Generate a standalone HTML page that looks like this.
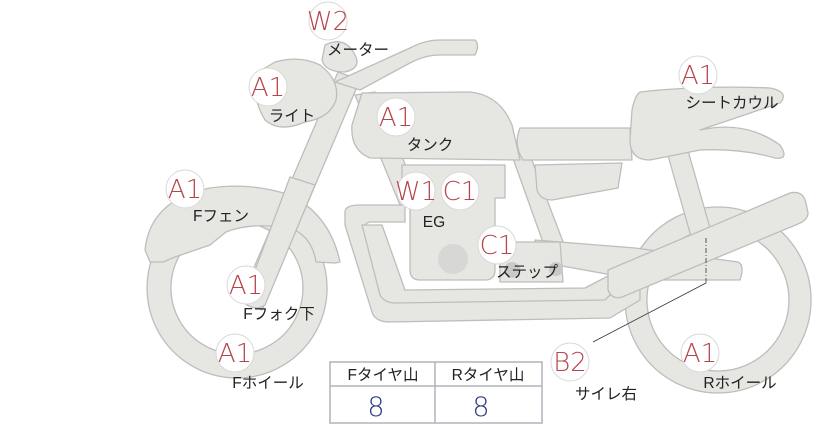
<!DOCTYPE html>
<html><head><meta charset="utf-8"><style>
html,body{margin:0;padding:0;background:#fff;}
svg{display:block;}
.p{fill:#e6e6e3;stroke:#bdbdbb;stroke-width:1.3;stroke-linejoin:round;}
.b{fill:#fff;stroke:#d8d8d8;stroke-width:1;}
.bt{font-family:"DejaVu Sans","Liberation Sans",sans-serif;font-size:26px;fill:#b5454a;text-anchor:middle;font-weight:200;}
.l{font-family:"Liberation Sans","Noto Sans CJK JP",sans-serif;font-size:15.5px;fill:#222;text-anchor:middle;}
</style></head><body>
<svg width="822" height="425" viewBox="0 0 822 425" xmlns="http://www.w3.org/2000/svg">
<!-- rear wheel -->
<path class="p" fill-rule="evenodd" d="M718,207a93,93 0 1,0 0.1,0Z M718,229a71,71 0 1,1 -0.1,0Z"/>
<!-- front wheel ring -->
<path class="p" fill-rule="evenodd" d="M237,198a90,90 0 1,0 0.1,0Z M237,222a66,66 0 1,1 -0.1,0Z"/>
<!-- front fender -->
<path class="p" d="M150,262 L145,250 Q150,200 210,188 Q250,182 290,195 Q330,215 340,262 L335,263 L316,262 Q312,236 290,228 Q250,222 226,232 L210,245 L175,257 L163,262 Z"/>
<!-- frame tube behind -->
<path class="p" d="M355,95 L375,92 L420,200 L400,205 Z"/>
<!-- rear frame -->
<path class="p" d="M510,150 L528,150 L570,260 L550,262 Z"/>
<path class="p" d="M665,145 L685,140 L712,235 L692,240 Z"/>
<!-- swing arm -->
<path class="p" d="M535,240 L635,248 L738,262 Q745,265 740,280 L640,280 L540,262 Z"/>
<!-- exhaust pipes -->
<path class="p" d="M345,212 Q345,205 360,205 L405,205 L405,222 L370,222 Q362,224 365,232 L400,300 L600,300 L615,288 L640,288 L640,300 L610,318 L390,322 Q375,322 372,312 L345,225 Z"/>
<path class="p" d="M362,225 L382,225 L405,290 L585,288 L610,275 L625,280 L605,300 L395,303 Q385,303 380,295 Z"/>
<!-- engine -->
<path class="p" d="M402,165 L505,165 L505,198 L495,198 L495,270 Q495,280 485,280 L420,280 Q410,280 410,270 L410,198 L402,198 Z"/>
<circle cx="453" cy="259" r="15" fill="#d7d7d5"/>
<!-- step -->
<path class="p" d="M500,242 L560,242 L563,282 L500,282 Z"/>
<circle cx="512" cy="270" r="8" fill="#c9c9c7"/><circle cx="556" cy="269" r="7" fill="#c9c9c7"/>
<!-- side cover -->
<path class="p" d="M535,165 L622,163 L618,188 L552,200 Q540,200 537,190 Z"/>
<!-- seat -->
<path class="p" d="M520,128 L630,128 L632,160 L523,160 Q513,145 520,128 Z"/>
<!-- seat cowl -->
<path class="p" d="M640,92 Q700,85 770,88 Q790,92 780,103 L700,130 Q745,120 780,145 Q790,160 775,158 Q740,148 700,150 L650,160 Q630,160 630,140 L632,110 Q635,95 640,92 Z"/>
<!-- tank -->
<path class="p" d="M362,93 L470,92 Q500,95 512,125 L520,160 L370,158 Q350,150 352,125 Z"/>
<!-- fork -->
<path class="p" d="M338,72 L360,80 L262,310 L240,300 Z"/>
<path class="p" d="M290,177 L315,185 L265,305 Q255,312 243,302 Z"/>
<!-- handlebar -->
<path class="p" d="M335,82 L410,48 Q425,40 440,40 L475,40 Q480,45 475,55 L440,55 Q425,55 410,63 L360,90 Z"/>
<!-- meter -->
<path class="p" d="M325,45 Q345,35 355,55 Q362,68 345,72 Q325,72 322,60 Z"/>
<!-- headlight -->
<path class="p" d="M275,62 Q300,55 320,65 Q340,80 336,100 Q330,118 305,122 Q280,133 265,120 Q250,95 258,72 Z"/>
<!-- muffler -->
<path class="p" d="M608,270 L790,193 Q803,190 806,203 L808,213 Q808,220 798,224 L622,297 Q612,300 608,290 Z"/>
<!-- leader line -->
<path d="M593,342 L706,283" stroke="#333" stroke-width="0.8" fill="none"/>
<path d="M706,283 L706,238" stroke="#333" stroke-width="0.8" stroke-dasharray="5,2,1,2" fill="none"/>
<!-- table -->
<rect x="330" y="362" width="212" height="61" fill="#fff" stroke="#b0b4bc" stroke-width="1.5"/>
<line x1="330" y1="386" x2="542" y2="386" stroke="#b0b4bc" stroke-width="1.5"/>
<line x1="435" y1="362" x2="435" y2="423" stroke="#b0b4bc" stroke-width="1.5"/>
<text class="l" x="383" y="380">Fタイヤ山</text>
<text class="l" x="488" y="380">Rタイヤ山</text>
<text x="376" y="416" font-family="DejaVu Sans,sans-serif" font-weight="200" font-size="27" fill="#2e3f82" text-anchor="middle">8</text>
<text x="481" y="416" font-family="DejaVu Sans,sans-serif" font-weight="200" font-size="27" fill="#2e3f82" text-anchor="middle">8</text>
<!-- badges -->
<g>
<circle class="b" cx="328" cy="21" r="19"/><text class="bt" x="328" y="30">W2</text>
<circle class="b" cx="268" cy="87" r="19"/><text class="bt" x="268" y="96">A1</text>
<circle class="b" cx="396" cy="117" r="19"/><text class="bt" x="396" y="126">A1</text>
<circle class="b" cx="185" cy="189" r="19"/><text class="bt" x="185" y="198">A1</text>
<circle class="b" cx="416" cy="191" r="19"/><text class="bt" x="416" y="200">W1</text>
<circle class="b" cx="460" cy="191" r="19"/><text class="bt" x="460" y="200">C1</text>
<circle class="b" cx="497" cy="245" r="19"/><text class="bt" x="497" y="254">C1</text>
<circle class="b" cx="246" cy="285" r="19"/><text class="bt" x="246" y="294">A1</text>
<circle class="b" cx="235" cy="353" r="19"/><text class="bt" x="235" y="362">A1</text>
<circle class="b" cx="570" cy="362" r="19"/><text class="bt" x="570" y="371">B2</text>
<circle class="b" cx="700" cy="353" r="19"/><text class="bt" x="700" y="362">A1</text>
<circle class="b" cx="698" cy="75" r="19"/><text class="bt" x="698" y="84">A1</text>
</g>
<!-- labels -->
<text class="l" x="358" y="55">メーター</text>
<text class="l" x="292" y="121">ライト</text>
<text class="l" x="430" y="150">タンク</text>
<text class="l" x="221" y="221">Fフェン</text>
<text class="l" x="434" y="227">EG</text>
<text class="l" x="527" y="277">ステップ</text>
<text class="l" x="279" y="319">Fフォク下</text>
<text class="l" x="268" y="388">Fホイール</text>
<text class="l" x="732" y="108">シートカウル</text>
<text class="l" x="606" y="399">サイレ右</text>
<text class="l" x="740" y="388">Rホイール</text>
</svg>
</body></html>
